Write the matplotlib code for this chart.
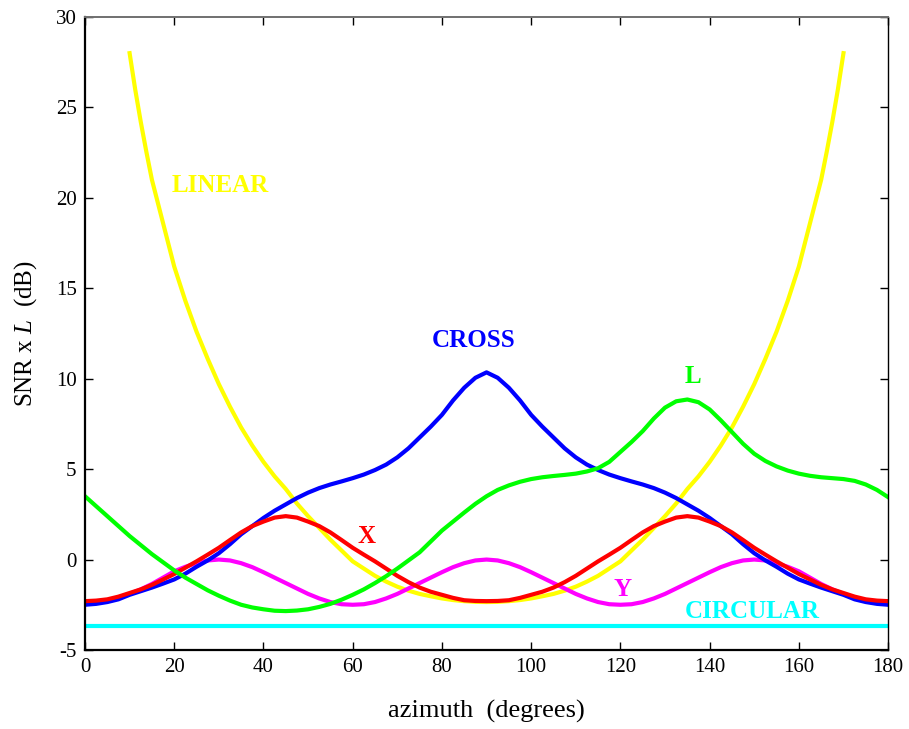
import matplotlib
matplotlib.use("Agg")
import matplotlib.pyplot as plt
import numpy as np

plt.rcParams['font.family'] = ['Liberation Serif', 'DejaVu Serif']
plt.rcParams['mathtext.fontset'] = 'custom'
plt.rcParams['mathtext.rm'] = 'Liberation Serif'
plt.rcParams['mathtext.it'] = 'Liberation Serif:italic'
plt.rcParams['axes.unicode_minus'] = False

# SNR x L (dB) versus azimuth (degrees) for each array configuration
azimuth = np.arange(0, 180.1, 2.5)

linear_az = [10, 11.25, 12.5, 13.75, 15, 17.5, 20, 22.5, 25, 27.5, 30, 32.5, 35, 37.5, 40, 42.5, 45,
             47.5, 50, 52.5, 55, 57.5, 60, 62.5, 65, 67.5, 70, 72.5, 75, 77.5, 80, 82.5, 85, 87.5, 90,
             92.5, 95, 97.5, 100, 102.5, 105, 107.5, 110, 112.5, 115, 117.5, 120, 122.5, 125, 127.5, 130,
             132.5, 135, 137.5, 140, 142.5, 145, 147.5, 150, 152.5, 155, 157.5, 160, 162.5, 165, 166.25,
             167.5, 168.75, 170]
linear_snr = [28.0, 26.0, 24.2, 22.55, 21.0, 18.6, 16.2, 14.3, 12.6, 11.1, 9.7, 8.45, 7.3, 6.3, 5.4, 4.6, 3.9,
              3.1, 2.4, 1.75, 1.1, 0.5, -0.1, -0.5, -0.9, -1.22, -1.5, -1.72, -1.9, -2.03, -2.15, -2.24, -2.3, -2.34, -2.35,
              -2.34, -2.3, -2.24, -2.15, -2.03, -1.9, -1.72, -1.5, -1.22, -0.9, -0.5, -0.1, 0.5, 1.1, 1.75, 2.4,
              3.1, 3.9, 4.6, 5.4, 6.3, 7.3, 8.45, 9.7, 11.1, 12.6, 14.3, 16.2, 18.6, 21.0, 22.55,
              24.2, 26.0, 28.0]

circular_az = [0, 180]
circular_snr = [-3.7, -3.7]

y_snr = [-2.4, -2.37, -2.25, -2.1, -1.9, -1.65, -1.35, -1.0, -0.65, -0.4, -0.2, -0.05, 0.0,
         -0.05, -0.2, -0.42, -0.7, -1.0, -1.3, -1.6, -1.9, -2.15, -2.35, -2.47, -2.5,
         -2.47, -2.35, -2.15, -1.9, -1.6, -1.3, -1.0, -0.7, -0.42, -0.2, -0.05, 0.0,
         -0.05, -0.2, -0.42, -0.7, -1.0, -1.3, -1.6, -1.9, -2.15, -2.35, -2.47, -2.5,
         -2.47, -2.35, -2.15, -1.9, -1.6, -1.3, -1.0, -0.7, -0.42, -0.2, -0.05, 0.0,
         -0.05, -0.2, -0.4, -0.65, -1.0, -1.35, -1.65, -1.9, -2.1, -2.25, -2.37, -2.4]

x_snr = [-2.3, -2.27, -2.2, -2.05, -1.85, -1.65, -1.4, -1.1, -0.8, -0.45, -0.1, 0.27, 0.65,
         1.08, 1.5, 1.85, 2.1, 2.32, 2.4, 2.32, 2.1, 1.85, 1.5, 1.08, 0.65,
         0.27, -0.1, -0.5, -0.9, -1.25, -1.55, -1.78, -1.95, -2.12, -2.25, -2.29, -2.3,
         -2.29, -2.25, -2.12, -1.95, -1.78, -1.55, -1.25, -0.9, -0.5, -0.1, 0.27, 0.65,
         1.08, 1.5, 1.85, 2.1, 2.32, 2.4, 2.32, 2.1, 1.85, 1.5, 1.08, 0.65,
         0.27, -0.1, -0.45, -0.8, -1.1, -1.4, -1.65, -1.85, -2.05, -2.2, -2.27, -2.3]

cross_snr = [-2.5, -2.45, -2.35, -2.2, -1.95, -1.75, -1.55, -1.33, -1.1, -0.78, -0.4, -0.05, 0.35,
             0.85, 1.4, 1.85, 2.3, 2.7, 3.05, 3.4, 3.7, 3.95, 4.15, 4.32, 4.5,
             4.7, 4.95, 5.25, 5.65, 6.15, 6.75, 7.35, 8.0, 8.8, 9.5, 10.05, 10.35,
             10.05, 9.5, 8.8, 8.0, 7.35, 6.75, 6.15, 5.65, 5.25, 4.95, 4.7, 4.5,
             4.32, 4.15, 3.95, 3.7, 3.4, 3.05, 2.7, 2.3, 1.85, 1.4, 0.85, 0.35,
             -0.05, -0.4, -0.78, -1.1, -1.33, -1.55, -1.75, -1.95, -2.2, -2.35, -2.45, -2.5]

l_snr = [3.5, 2.95, 2.4, 1.85, 1.3, 0.8, 0.3, -0.15, -0.6, -1.0, -1.35, -1.7, -2.0,
         -2.27, -2.5, -2.65, -2.75, -2.83, -2.85, -2.82, -2.75, -2.62, -2.45, -2.22, -1.95,
         -1.65, -1.3, -0.92, -0.5, -0.05, 0.4, 1.0, 1.6, 2.1, 2.6, 3.08, 3.5,
         3.85, 4.1, 4.3, 4.45, 4.55, 4.62, 4.68, 4.75, 4.87, 5.05, 5.4, 5.95,
         6.5, 7.1, 7.8, 8.4, 8.75, 8.85, 8.7, 8.3, 7.7, 7.05, 6.4, 5.85,
         5.45, 5.15, 4.92, 4.75, 4.63, 4.55, 4.5, 4.45, 4.35, 4.15, 3.85, 3.45]

x_ticks = list(range(0, 181, 20))
y_ticks = list(range(-5, 31, 5))

fig = plt.figure(figsize=(9.09, 7.29), dpi=100)
ax = fig.add_axes([0.0935, 0.1084, 0.8835, 0.8683])

lw = 3.0
ax.plot(linear_az, linear_snr, color='#FFFF00', lw=lw)
ax.plot(circular_az, circular_snr, color='#00FFFF', lw=lw)
ax.plot(azimuth, y_snr, color='#FF00FF', lw=lw)
ax.plot(azimuth, cross_snr, color='#0000FF', lw=lw)
ax.plot(azimuth, x_snr, color='#FF0000', lw=lw)
ax.plot(azimuth, l_snr, color='#00FF00', lw=lw)

label_kw = dict(fontsize=18, fontweight='bold', va='center')
ax.text(19.5, 20.66, 'LINEAR', color='#FFFF00', ha='left', **label_kw)
ax.text(87.2, 12.09, 'CROSS', color='#0000FF', ha='center', **label_kw)
ax.text(136.3, 10.1, 'L', color='#00FF00', ha='center', **label_kw)
ax.text(63.0, 1.25, 'X', color='#FF0000', ha='center', **label_kw)
ax.text(120.4, -1.63, 'Y', color='#FF00FF', ha='center', **label_kw)
ax.text(149.5, -2.9, 'CIRCULAR', color='#00FFFF', ha='center', **label_kw)

ax.set_xlim(0, 180)
ax.set_ylim(-5, 30)
ax.set_xticks(x_ticks)
ax.set_yticks(y_ticks)
ax.tick_params(direction='in', length=6, width=1, labelsize=15, top=True, right=True, pad=6)

ax.set_xlabel('azimuth  (degrees)', fontsize=19, labelpad=16)
ax.set_ylabel('SNR x $\\mathit{L}$  (dB)', fontsize=18, labelpad=12)

for side in ('left', 'bottom'):
    ax.spines[side].set_linewidth(1.6)
    ax.spines[side].set_color('black')
ax.spines['right'].set_linewidth(1.0)
ax.spines['right'].set_color('black')
ax.spines['top'].set_linewidth(1.4)
ax.spines['top'].set_color('#707070')

fig.savefig('out.png', dpi=100)
